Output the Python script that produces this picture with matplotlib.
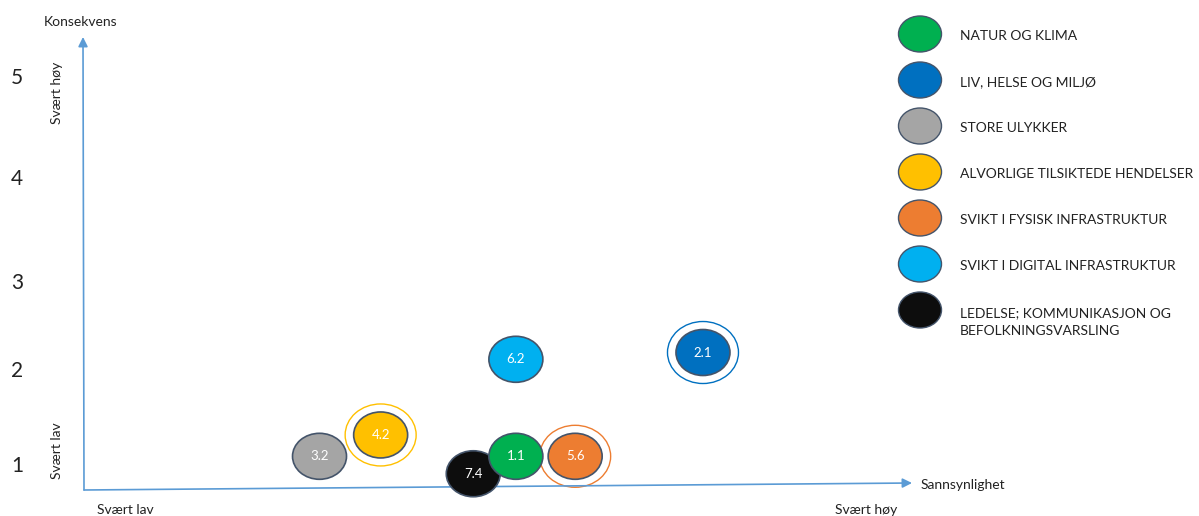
import matplotlib.pyplot as plt
from matplotlib.patches import Ellipse

plt.rcParams['font.family'] = ['Lato', 'DejaVu Sans']

# Risk items: code, category index, likelihood (x), consequence (y)
codes = ['3.2', '4.2', '7.4', '1.1', '5.6', '6.2', '2.1']
cat_idx = [2, 3, 6, 0, 4, 5, 1]
likelihood = [2.05, 2.38, 2.88, 3.11, 3.43, 3.11, 4.12]
consequence = [1.10, 1.32, 0.92, 1.10, 1.10, 2.10, 2.17]
ringed = ['4.2', '5.6', '2.1']

categories = ['NATUR OG KLIMA', 'LIV, HELSE OG MILJØ', 'STORE ULYKKER',
              'ALVORLIGE TILSIKTEDE HENDELSER', 'SVIKT I FYSISK INFRASTRUKTUR',
              'SVIKT I DIGITAL INFRASTRUKTUR',
              'LEDELSE; KOMMUNIKASJON OG\nBEFOLKNINGSVARSLING']
cat_colors = ['#00B050', '#0070C0', '#A5A5A5', '#FFC000', '#ED7D31',
              '#00B0F0', '#0D0D0D']

levels = [1, 2, 3, 4, 5]
level_pos = [1.0, 1.98, 2.89, 3.96, 5.0]

W, H = 1199, 516
fig = plt.figure(figsize=(W / 100, H / 100), dpi=100)
ax = fig.add_axes([0, 0, 1, 1])

# scale: 1 unit likelihood = 185.25 px, 1 unit consequence = 97 px
SX, SY = 185.25, 97.0
x0, y0 = 1 - 125 / SX, 1 - 50 / SY
ax.set_xlim(x0, x0 + W / SX)
ax.set_ylim(y0, y0 + H / SY)
ax.axis('off')


def px(x):
    return x0 + x / SX


def py(y):
    return y0 + (H - y) / SY


axis_col = '#5B9BD5'
edge_col = '#44546A'
txt_col = '#222222'

# axes arrows
ax.annotate('', xy=(px(83), py(37)), xytext=(px(84), py(490)),
            arrowprops=dict(arrowstyle='-|>', color=axis_col, lw=1.2,
                            mutation_scale=14, shrinkA=0, shrinkB=0))
ax.annotate('', xy=(px(912), py(483)), xytext=(px(84), py(490)),
            arrowprops=dict(arrowstyle='-|>', color=axis_col, lw=1.2,
                            mutation_scale=14, shrinkA=0, shrinkB=0))

ax.text(px(81), py(22), 'Konsekvens', ha='center', va='center', fontsize=10,
        color=txt_col)
ax.text(px(921), py(485), 'Sannsynlighet', ha='left', va='center',
        fontsize=10, color=txt_col)
ax.text(px(57), py(93), 'Svært høy', rotation=90, ha='center', va='center',
        fontsize=10, color=txt_col)
ax.text(px(57), py(451), 'Svært lav', rotation=90, ha='center', va='center',
        fontsize=10, color=txt_col)
ax.text(1, py(510), 'Svært lav', ha='center', va='center', fontsize=10,
        color=txt_col)
ax.text(5, py(510), 'Svært høy', ha='center', va='center', fontsize=10,
        color=txt_col)

for lv, pos in zip(levels, level_pos):
    ax.text(px(17), pos, str(lv), ha='center', va='center', fontsize=15,
            color=txt_col)

# bubbles
bw, bh = 54 / SX, 46 / SY
rw, rh = 71 / SX, 62 / SY
for code, ci, x, y in zip(codes, cat_idx, likelihood, consequence):
    col = cat_colors[ci]
    if code in ringed:
        ax.add_patch(Ellipse((x, y), rw, rh, facecolor='none', edgecolor=col,
                             lw=1.0, zorder=2))
    ax.add_patch(Ellipse((x, y), bw, bh, facecolor=col, edgecolor=edge_col,
                         lw=1.2, zorder=3))
    ax.text(x, y, code, ha='center', va='center', fontsize=9.5,
            color='white', zorder=4)

# legend
lw_, lh_ = 43 / SX, 36 / SY
for i, (name, col) in enumerate(zip(categories, cat_colors)):
    cy = 34 + i * 46
    ax.add_patch(Ellipse((px(920), py(cy)), lw_, lh_, facecolor=col,
                         edgecolor=edge_col, lw=1.0, zorder=3))
    ty = cy + 2 if '\n' not in name else cy + 12
    ax.text(px(960), py(ty), name, ha='left', va='center', fontsize=10,
            color=txt_col, linespacing=1.6)

fig.savefig('out.png', dpi=100)
